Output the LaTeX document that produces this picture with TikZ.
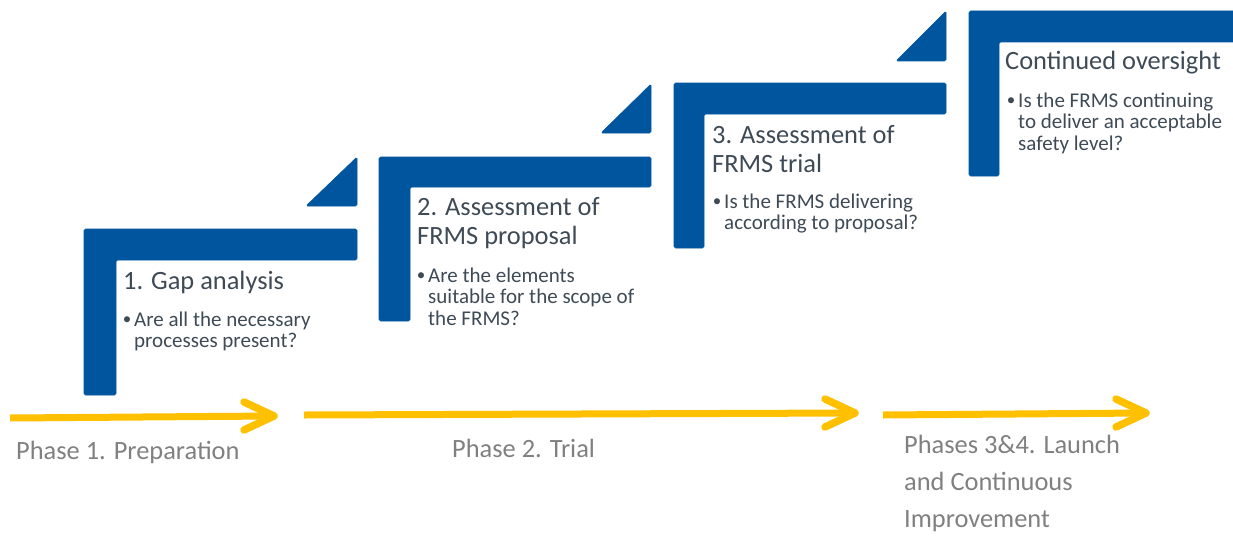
\documentclass[tikz,border=0pt]{standalone}
\usepackage{fontspec}
\setmainfont{Carlito}
\definecolor{stepblue}{HTML}{00559F}
\definecolor{txtdark}{HTML}{3E4A55}
\definecolor{phasegrey}{HTML}{808080}
\definecolor{arrowyellow}{HTML}{FFC000}
\tikzset{
  stepshape/.style={fill=stepblue, draw=stepblue, line width=0.6pt, rounded corners=1.5pt},
  titletext/.style={anchor=base west, inner sep=0pt, text=txtdark, align=left,
     font=\fontsize{26.4}{29}\selectfont},
  bullettext/.style={anchor=base west, inner sep=0pt, text=txtdark, align=left,
     font=\fontsize{21}{21.5}\selectfont},
  bulletdot/.style={anchor=base, inner sep=0pt, text=txtdark,
     font=\fontsize{17}{17}\selectfont},
  phasetext/.style={anchor=base west, inner sep=0pt, text=phasegrey, align=left,
     font=\fontsize{26.4}{37}\selectfont},
  phasearrow/.style={draw=arrowyellow, line width=7pt},
  arrowhead/.style={draw=arrowyellow, line width=7.5pt, line cap=round, line join=round}
}
\begin{document}
\begin{tikzpicture}[x=1pt,y=-1pt]
\useasboundingbox (0,0) rectangle (1233,535);
% step shapes
\fill[stepshape] (84,229) -- (357,229) -- (357,260) -- (116,260) -- (116,395) -- (84,395) -- cycle;
\fill[stepshape] (306,206) -- (357,206) -- (357,157) -- cycle;
\fill[stepshape] (379,157) -- (651,157) -- (651,187) -- (410,187) -- (410,321) -- (379,321) -- cycle;
\fill[stepshape] (601,133) -- (651,133) -- (651,84) -- cycle;
\fill[stepshape] (674,83) -- (946,83) -- (946,114) -- (704,114) -- (704,248) -- (674,248) -- cycle;
\fill[stepshape] (896,61) -- (946,61) -- (946,11) -- cycle;
\begin{scope}
\clip (0,0) rectangle (1233,535);
\fill[stepshape] (969,11) -- (1245,11) -- (1245,42) -- (999,42) -- (999,176) -- (969,176) -- cycle;
\end{scope}
% texts (base anchor of a multi-line node = baseline of its last line)
\node[titletext] (t1) at (123,289) {1. Gap analysis};
\node[bulletdot] (d1) at (127,324) {•};
\node[bullettext] (b1) at (134,347.5) {Are all the necessary\\processes present?};
\node[titletext] (t2) at (417,244) {2. Assessment of\\FRMS proposal};
\node[bulletdot] (d2) at (421,280) {•};
\node[bullettext] (b2) at (428,325) {Are the elements\\suitable for the scope of\\the FRMS?};
\node[titletext] (t3) at (712,172) {3. Assessment of\\FRMS trial};
\node[bulletdot] (d3) at (717,206) {•};
\node[bullettext] (b3) at (724,229.5) {Is the FRMS delivering\\according to proposal?};
\node[titletext] (t4) at (1005,70) {Continued oversight};
\node[bulletdot] (d4) at (1011,105) {•};
\node[bullettext] (b4) at (1018,150) {Is the FRMS continuing\\to deliver an acceptable\\safety level?};
% arrows
\coordinate (a1s) at (10,418);
\coordinate (a1e) at (274,416);
\coordinate (a2s) at (304,415);
\coordinate (a2e) at (855,413);
\coordinate (a3s) at (883,415);
\coordinate (a3e) at (1146,413);
\draw[phasearrow] (a1s) -- (a1e);
\draw[arrowhead] ([shift={(-30,-14)}]a1e) -- (a1e) -- ([shift={(-30,14)}]a1e);
\draw[phasearrow] (a2s) -- (a2e);
\draw[arrowhead] ([shift={(-30,-14)}]a2e) -- (a2e) -- ([shift={(-30,14)}]a2e);
\draw[phasearrow] (a3s) -- (a3e);
\draw[arrowhead] ([shift={(-30,-14)}]a3e) -- (a3e) -- ([shift={(-30,14)}]a3e);
% phase labels
\node[phasetext] (p1) at (16,459) {Phase 1. Preparation};
\node[phasetext] (p2) at (452,457) {Phase 2. Trial};
\node[phasetext] (p3) at (904,527) {Phases 3\&4. Launch\\and Continuous\\Improvement};
\end{tikzpicture}
\end{document}
